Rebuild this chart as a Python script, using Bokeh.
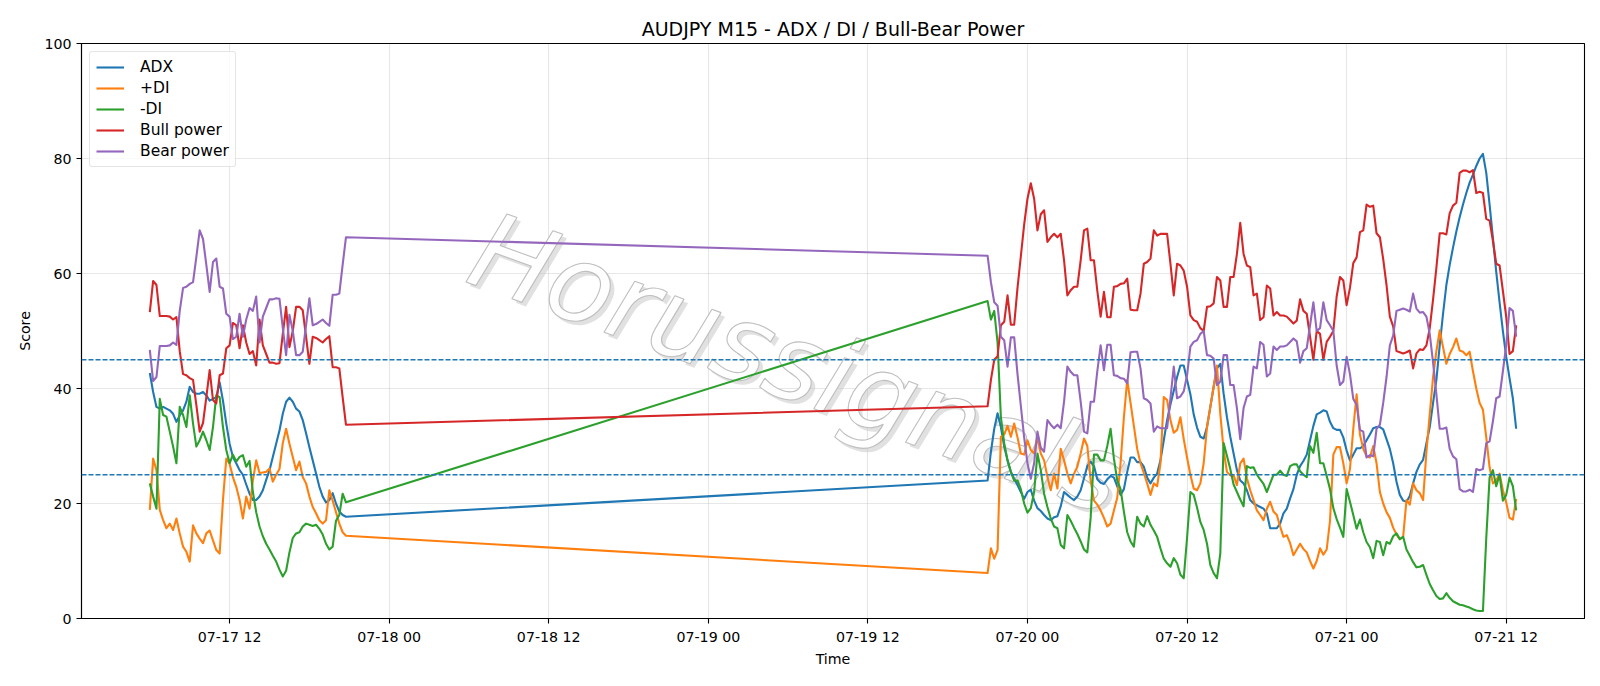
import pandas as pd
from bokeh.plotting import figure
from bokeh.models import Range1d, FixedTicker, DatetimeTickFormatter, Span, Label
from bokeh.embed import file_html
from bokeh.resources import INLINE

# ---- time axis: two trading sessions of M15 bars (weekend gap in between) ----
session_1 = ("2020-07-17 06:00", "2020-07-17 20:45")
session_2 = ("2020-07-19 21:00", "2020-07-21 12:45")
tick_start, tick_end = "2020-07-17 12:00", "2020-07-21 12:00"

# ---- series (first 60 values = session 1, next 160 = session 2) ----
adx = [
    42.7, 39.4, 36.8, 36.5, 36.8, 36.5, 36.2, 35.6, 34.2, 35.3,
    36.2, 37.7, 40.3, 39.4, 39.1, 39.1, 39.4, 38.8, 37.9, 38.2,
    38.5, 41.1, 37.9, 33.9, 30.4, 28.1, 27.0, 25.8, 25.0, 23.3,
    21.7, 20.6, 20.6, 21.2, 22.3, 24.1, 25.8, 28.1, 30.4, 32.7,
    35.6, 37.7, 38.4, 37.7, 36.5, 36.0, 34.5, 32.2, 29.8, 27.5,
    25.2, 22.9, 21.2, 20.2, 20.6, 21.8, 20.0, 18.6, 18.0, 17.7,
    24.0, 29.0, 33.0, 35.7, 33.3, 29.9, 27.5, 25.5, 24.3, 23.2,
    22.0, 20.8, 22.0, 22.4, 20.5, 19.2, 18.7, 18.0, 17.4, 17.1,
    17.6, 17.8, 19.5, 22.0, 21.5, 21.0, 20.6, 21.2, 22.3, 24.4,
    26.5, 27.3, 26.5, 24.2, 23.6, 23.4, 24.2, 24.8, 24.5, 23.0,
    21.5, 22.5, 25.5, 28.0, 28.0, 27.2, 27.2, 26.4, 24.5, 23.5,
    24.5, 25.2, 27.5, 31.0, 34.5, 37.2, 39.6, 42.0, 44.0, 44.0,
    41.5, 39.0, 35.5, 33.2, 31.6, 31.3, 33.3, 36.8, 40.3, 43.5,
    44.3, 39.1, 35.0, 31.6, 28.7, 25.8, 24.0, 23.5, 22.3, 20.6,
    20.0, 19.7, 19.4, 19.1, 18.3, 15.7, 15.7, 15.7, 16.5, 18.3,
    19.1, 20.9, 22.5, 25.0, 26.5, 27.4, 28.5, 31.0, 33.5, 35.5,
    35.8, 36.2, 36.0, 34.2, 33.1, 32.8, 32.8, 31.5, 29.2, 27.5,
    28.5, 29.6, 29.6, 30.0, 31.0, 32.0, 33.1, 33.3, 33.3, 32.9,
    31.2, 29.5, 27.0, 23.8, 21.5, 20.5, 20.3, 21.3, 23.5, 25.5,
    26.8, 27.6, 30.5, 33.3, 37.5, 41.5, 47.5, 53.0, 58.0, 61.5,
    64.5, 67.3, 69.8, 72.0, 74.0, 75.8, 77.2, 78.7, 80.0, 80.8,
    77.5, 72.0, 66.2, 60.3, 55.0, 50.0, 45.5, 41.8, 38.3, 33.0,
]
plus_di = [
    18.9, 27.8, 25.8, 18.9, 17.1, 15.7, 16.5, 15.4, 17.4, 14.8,
    12.5, 11.6, 9.9, 16.2, 14.8, 13.9, 13.1, 14.8, 15.3, 13.6,
    11.9, 11.3, 20.6, 27.8, 26.9, 24.6, 22.9, 20.6, 17.4, 21.2,
    19.1, 24.0, 27.5, 25.3, 25.4, 25.5, 26.1, 23.8, 25.0, 26.0,
    30.5, 33.0, 30.4, 28.1, 25.8, 27.3, 24.6, 23.5, 21.2, 19.4,
    18.3, 17.1, 16.5, 17.1, 22.3, 20.5, 18.5, 16.5, 15.0, 14.4,
    7.9, 12.2, 10.4, 11.9, 31.6, 32.0, 33.5, 31.6, 33.9, 31.5,
    28.7, 28.5, 31.0, 29.3, 28.7, 31.5, 28.7, 27.5, 24.6, 22.3,
    25.2, 22.6, 29.5, 27.5, 25.2, 23.5, 25.2, 26.4, 28.7, 31.3,
    30.0, 24.0, 20.5, 19.8, 18.8, 17.5, 16.0, 16.5, 18.8, 21.0,
    27.0, 35.0, 41.5, 37.5, 33.5, 29.5, 27.0, 25.3, 23.5, 21.5,
    23.5, 23.0, 27.0, 38.5, 38.0, 34.5, 32.3, 32.8, 35.0, 31.2,
    28.0, 25.0, 22.6, 22.3, 23.5, 27.0, 33.3, 36.8, 40.3, 44.0,
    35.6, 29.3, 25.5, 24.9, 24.9, 23.2, 27.0, 27.8, 24.4, 22.3,
    20.6, 18.8, 18.0, 17.1, 19.1, 20.3, 18.6, 18.0, 16.0, 14.2,
    14.5, 13.1, 11.0, 12.0, 13.0, 12.1, 11.5, 10.0, 8.7, 10.0,
    12.2, 11.1, 12.0, 17.0, 28.5, 29.8, 29.8, 27.0, 23.5, 26.0,
    33.0, 39.0, 32.0, 29.5, 28.2, 28.0, 30.0, 27.0, 22.0, 20.0,
    18.5, 17.5, 15.8, 14.6, 13.8, 14.2, 20.6, 19.8, 23.5, 22.3,
    21.8, 20.6, 29.0, 35.5, 42.0, 46.5, 50.1, 47.2, 44.3, 46.0,
    47.2, 48.7, 46.6, 46.4, 45.8, 46.4, 43.0, 40.0, 37.5, 36.3,
    31.5, 26.3, 23.5, 24.0, 25.2, 22.3, 20.2, 17.5, 17.2, 20.8,
]
minus_di = [
    23.5, 21.2, 19.1, 38.2, 35.4, 35.1, 32.5, 29.9, 27.0, 36.8,
    35.4, 33.3, 38.8, 33.9, 29.9, 31.0, 32.5, 31.0, 29.3, 33.3,
    38.8, 38.5, 33.3, 29.3, 27.0, 28.5, 27.3, 28.1, 28.4, 26.4,
    27.4, 22.0, 18.5, 16.0, 14.3, 13.0, 12.0, 10.9, 9.9, 8.5,
    7.3, 8.3, 11.5, 14.0, 14.8, 15.0, 16.0, 16.5, 16.3, 16.1,
    16.3, 15.6, 14.6, 13.0, 12.0, 12.5, 17.0, 18.0, 21.7, 20.2,
    55.2, 52.0, 53.5, 48.0, 35.0, 30.5, 27.5, 25.5, 24.0, 24.0,
    22.5, 20.0, 18.4, 19.2, 22.0, 28.7, 25.8, 21.7, 19.4, 17.4,
    16.0, 15.7, 12.8, 12.2, 18.0, 17.0, 15.8, 14.7, 13.4, 12.0,
    11.5, 17.5, 28.5, 28.5, 27.5, 27.5, 30.0, 33.0, 27.8, 24.0,
    22.5, 18.6, 15.0, 13.4, 12.5, 17.7, 16.5, 16.0, 17.8, 16.3,
    15.3, 14.2, 12.2, 10.4, 9.6, 9.0, 10.5, 9.6, 7.6, 7.0,
    14.0, 22.0, 21.5, 19.3, 16.8, 15.4, 13.0, 9.3, 7.9, 7.0,
    11.3, 30.5, 28.3, 26.0, 23.3, 22.0, 20.7, 19.5, 26.5, 26.2,
    26.3, 25.0, 24.2, 23.4, 22.0, 23.5, 25.0, 25.0, 25.7, 25.0,
    24.8, 26.5, 26.8, 26.8, 25.6, 25.0, 24.6, 30.0, 28.8, 32.3,
    27.0, 27.0, 24.8, 22.5, 19.2, 17.3, 15.8, 14.2, 22.5, 20.3,
    18.0, 15.6, 17.2, 15.0, 13.3, 12.4, 10.5, 13.5, 13.3, 11.0,
    13.3, 13.0, 14.3, 14.8, 13.8, 14.2, 12.0, 10.9, 9.8, 8.9,
    9.0, 9.3, 7.6, 6.0, 4.9, 3.9, 3.4, 3.5, 4.4, 3.6,
    3.0, 2.7, 2.4, 2.3, 2.1, 1.9, 1.6, 1.4, 1.3, 1.3,
    14.0, 24.5, 25.8, 23.0, 25.0, 20.5, 21.5, 24.5, 23.0, 18.8,
]
bull_power = [
    53.3, 58.7, 58.0, 52.6, 52.6, 52.6, 52.5, 52.0, 52.4, 46.5,
    42.5, 42.3, 41.8, 41.5, 37.1, 32.5, 34.0, 38.5, 43.2, 38.0,
    37.4, 42.3, 42.6, 47.0, 47.5, 51.4, 51.0, 47.0, 51.0, 48.0,
    46.0, 46.5, 44.0, 52.0, 47.5, 46.0, 44.5, 44.5, 44.3, 44.4,
    49.5, 54.2, 47.2, 50.0, 54.2, 54.2, 53.6, 49.0, 44.3, 49.0,
    48.8, 48.4, 48.0, 48.6, 49.1, 43.7, 43.7, 43.5, 38.5, 33.7,
    36.9, 41.5, 45.0, 45.6, 51.0, 51.6, 56.2, 51.1, 51.1, 57.5,
    63.0, 68.5, 73.0, 75.7, 73.0, 67.5, 70.3, 71.0, 65.5, 66.3,
    66.9, 66.3, 66.9, 62.3, 56.2, 57.1, 57.7, 57.7, 62.3, 67.5,
    67.8, 62.3, 62.3, 57.0, 52.5, 56.8, 52.4, 52.4, 57.7, 57.8,
    58.2, 58.3, 59.1, 53.7, 53.6, 53.6, 56.5, 61.7, 62.0, 62.6,
    67.5, 66.6, 66.9, 66.9, 66.9, 61.7, 56.2, 61.7, 61.4, 60.5,
    57.7, 52.7, 51.9, 51.6, 50.5, 50.0, 54.2, 54.3, 54.8, 59.4,
    58.8, 54.2, 54.2, 59.4, 59.4, 63.4, 68.8, 63.4, 61.4, 61.1,
    56.2, 56.5, 51.9, 52.4, 57.9, 57.4, 52.7, 53.3, 52.7, 52.7,
    52.5, 51.9, 51.3, 51.8, 55.5, 53.5, 53.0, 49.0, 45.0, 50.0,
    49.5, 45.0, 48.1, 49.0, 50.0, 56.0, 59.4, 58.8, 54.5, 57.5,
    61.8, 62.8, 67.2, 67.5, 72.0, 71.6, 71.8, 67.0, 66.3, 62.5,
    58.0, 52.5, 50.8, 46.5, 46.3, 46.1, 46.3, 46.6, 43.5, 46.1,
    46.8, 46.7, 47.5, 50.5, 55.5, 61.0, 67.0, 67.0, 66.8, 70.5,
    71.8, 72.3, 77.5, 77.9, 77.9, 77.6, 78.0, 74.0, 74.2, 74.0,
    69.5, 69.2, 65.7, 61.7, 61.4, 57.0, 52.5, 46.0, 46.5, 51.0,
]
bear_power = [
    46.7, 41.3, 42.0, 47.4, 47.4, 47.4, 47.5, 48.0, 47.6, 53.5,
    57.5, 57.7, 58.2, 58.5, 62.9, 67.5, 66.0, 61.5, 56.8, 62.0,
    62.6, 57.7, 57.4, 53.0, 52.5, 48.6, 49.0, 53.0, 49.0, 52.0,
    54.0, 53.5, 56.0, 48.0, 52.5, 54.0, 55.5, 55.5, 55.7, 55.6,
    50.5, 45.8, 52.8, 50.0, 45.8, 45.8, 46.4, 51.0, 55.7, 51.0,
    51.2, 51.6, 52.0, 51.4, 50.9, 56.3, 56.3, 56.5, 61.5, 66.3,
    63.1, 58.5, 55.0, 54.4, 49.0, 48.4, 43.8, 48.9, 48.9, 42.5,
    37.0, 31.5, 27.0, 24.3, 27.0, 32.5, 29.7, 29.0, 34.5, 33.7,
    33.1, 33.7, 33.1, 37.7, 43.8, 42.9, 42.3, 42.3, 37.7, 32.5,
    32.2, 37.7, 37.7, 43.0, 47.5, 43.2, 47.6, 47.6, 42.3, 42.2,
    41.8, 41.7, 40.9, 46.3, 46.4, 46.4, 43.5, 38.3, 38.0, 37.4,
    32.5, 33.4, 33.1, 33.1, 33.1, 38.3, 43.8, 38.3, 38.6, 39.5,
    42.3, 47.3, 48.1, 48.4, 49.5, 50.0, 45.8, 45.7, 45.2, 40.6,
    41.2, 45.8, 45.8, 40.6, 40.6, 36.6, 31.2, 36.6, 38.6, 38.9,
    43.8, 43.5, 48.1, 47.6, 42.1, 42.6, 47.3, 46.7, 47.3, 47.3,
    47.5, 48.1, 48.7, 48.2, 44.5, 46.5, 47.0, 51.0, 55.0, 50.0,
    50.5, 55.0, 51.9, 51.0, 50.0, 44.0, 40.6, 41.2, 45.5, 42.5,
    38.2, 37.2, 32.8, 32.5, 28.0, 28.4, 28.2, 33.0, 33.7, 37.5,
    42.0, 47.5, 49.2, 53.5, 53.7, 53.9, 53.7, 53.4, 56.5, 53.9,
    53.2, 53.3, 52.5, 49.5, 44.5, 39.0, 33.0, 33.0, 33.2, 29.5,
    28.2, 27.7, 22.5, 22.1, 22.1, 22.4, 22.0, 26.0, 25.8, 26.0,
    30.5, 30.8, 34.3, 38.3, 38.6, 43.0, 47.5, 54.0, 53.5, 49.0,
]
levels = [45, 25]
series_names = ["ADX", "+DI", "-DI", "Bull power", "Bear power"]
y_ticks = [0, 20, 40, 60, 80, 100]

# ---- build ----
times = pd.date_range(*session_1, freq="15min").append(pd.date_range(*session_2, freq="15min"))
times = list(times.to_pydatetime())
n = min(len(times), len(adx), len(plus_di), len(minus_di), len(bull_power), len(bear_power))
times = times[:n]

t0, t1 = times[0], times[-1]
pad = (t1 - t0) * 0.05
x_ticks = [t.timestamp() * 1000 for t in pd.date_range(tick_start, tick_end, freq="12h").to_pydatetime()]

FONT = "DejaVu Sans"
p = figure(width=1600, height=686, x_axis_type="datetime", output_backend="svg",
           toolbar_location=None, title="AUDJPY M15 - ADX / DI / Bull-Bear Power",
           x_range=Range1d(t0 - pad, t1 + pad), y_range=Range1d(0, 100),
           min_border_left=81, min_border_right=16, min_border_top=43, min_border_bottom=68)
p.background_fill_color = "white"
p.border_fill_color = "white"
p.outline_line_color = "black"
p.outline_line_width = 1.1
p.outline_line_alpha = 1.0

p.title.align = "center"
p.title.text_font = FONT
p.title.text_font_size = "19px"
p.title.text_font_style = "normal"
p.title.text_color = "black"
p.title.standoff = 8

# watermark
wm_x = pd.Timestamp("2020-07-19 06:45").to_pydatetime()
wm_y = 44.3
shadow = Label(x=wm_x, y=wm_y, x_offset=4, y_offset=-4, text="Horussignals", angle=-0.35,
               text_align="center", text_baseline="middle", text_font=FONT,
               text_font_style="italic", text_font_size="107px",
               text_color="#c4c4c4", text_alpha=0.5, level="underlay")
mark = Label(x=wm_x, y=wm_y, text="Horussignals", angle=-0.35,
             text_align="center", text_baseline="middle", text_font=FONT,
             text_font_style="italic", text_font_size="107px",
             text_color="white", text_alpha=0.95, text_outline_color="#bcbcbc",
             level="underlay")
p.add_layout(shadow)
p.add_layout(mark)

colors = ["#1f77b4", "#ff7f0e", "#2ca02c", "#d62728", "#9467bd"]
for vals, name, c in zip([adx, plus_di, minus_di, bull_power, bear_power], series_names, colors):
    p.line(times, vals[:n], line_color=c, line_width=2.1, line_join="round", legend_label=name)

for lv in levels:
    p.add_layout(Span(location=lv, dimension="width", line_color="#1f77b4",
                      line_width=1.4, line_dash="5 2"))

fmt = "%m-%d %H"
p.xaxis.ticker = FixedTicker(ticks=x_ticks)
p.xaxis.formatter = DatetimeTickFormatter(milliseconds=fmt, seconds=fmt, minsec=fmt, minutes=fmt,
                                          hourmin=fmt, hours=fmt, days=fmt, months=fmt, years=fmt)
p.yaxis.ticker = FixedTicker(ticks=y_ticks)
p.xaxis.axis_label = "Time"
p.yaxis.axis_label = "Score"
for ax in (p.xaxis, p.yaxis):
    ax.axis_label_text_font = FONT
    ax.axis_label_text_font_size = "14.2px"
    ax.axis_label_text_font_style = "normal"
    ax.axis_label_text_color = "black"
    ax.major_label_text_font = FONT
    ax.major_label_text_font_size = "14.2px"
    ax.major_label_text_color = "black"
    ax.axis_line_color = "black"
    ax.axis_line_width = 1.1
    ax.major_tick_line_color = "black"
    ax.major_tick_line_width = 1.1
    ax.major_tick_out = 5
    ax.major_tick_in = 0
    ax.minor_tick_line_color = None
    ax.major_label_standoff = 5
p.xaxis.axis_label_standoff = 3
p.yaxis.axis_label_standoff = 8

for g in (p.xgrid, p.ygrid):
    g.grid_line_color = "#b0b0b0"
    g.grid_line_alpha = 0.3
    g.grid_line_width = 1.1
p.xgrid.ticker = FixedTicker(ticks=x_ticks)
p.ygrid.ticker = FixedTicker(ticks=y_ticks)

lg = p.legend[0]
lg.location = "top_left"
lg.margin = 8
lg.padding = 6
lg.spacing = 3
lg.label_height = 18
lg.glyph_height = 18
lg.glyph_width = 28
lg.label_standoff = 16
lg.label_text_font = FONT
lg.label_text_font_size = "15.5px"
lg.label_text_color = "black"
lg.border_line_color = "#cccccc"
lg.border_line_width = 1
lg.border_radius = 3
lg.background_fill_alpha = 0.8

open("out.html", "w").write(file_html(p, INLINE))
